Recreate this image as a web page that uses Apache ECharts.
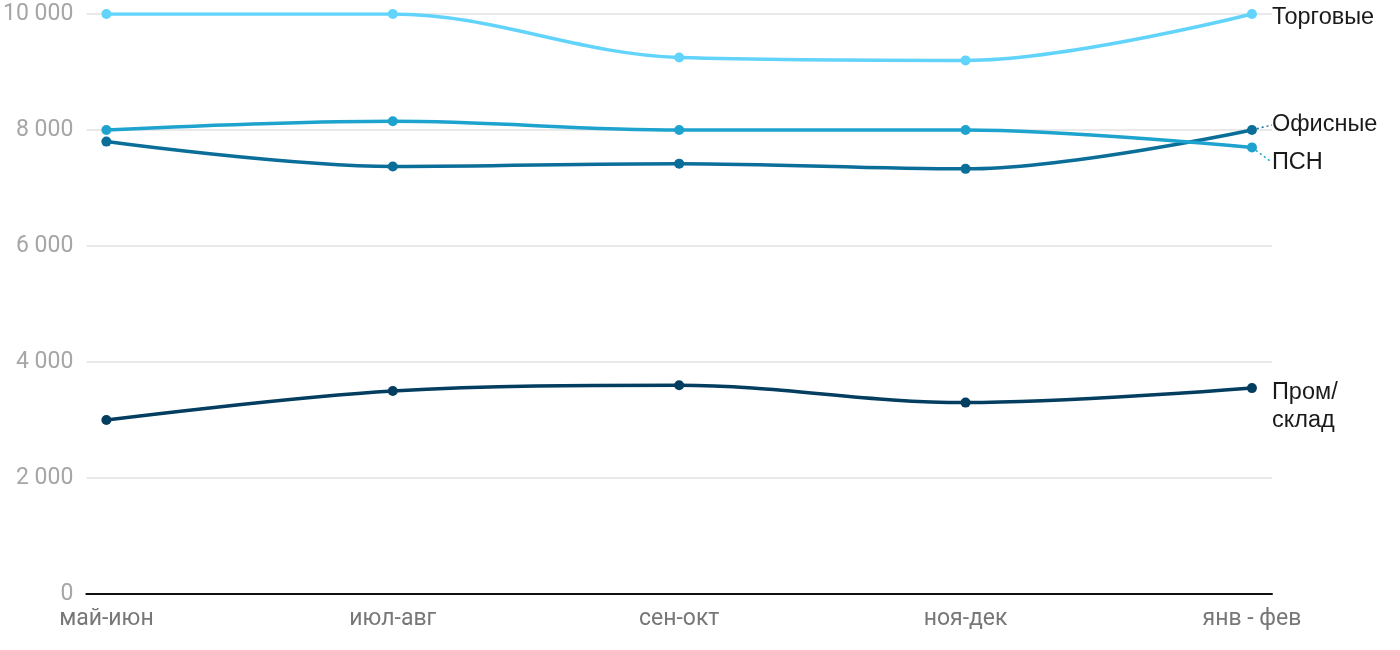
<!DOCTYPE html>
<html><head><meta charset="utf-8">
<script src="https://cdn.jsdelivr.net/npm/echarts@6/dist/echarts.min.js"></script>
<style>html,body{margin:0;padding:0;background:#fff}#c{width:1400px;height:650px}</style>
</head><body><div id="c"></div>
<script>
const categories = ['май-июн', 'июл-авг', 'сен-окт', 'ноя-дек', 'янв - фев'];
const seriesNames = ['Торговые', 'ПСН', 'Офисные', 'Пром/\nсклад'];
const torgovye = [10000, 10000, 9250, 9200, 10000];
const psn = [8000, 8150, 8000, 8000, 7700];
const ofisnye = [7800, 7370, 7420, 7330, 8000];
const promsklad = [3000, 3500, 3600, 3300, 3550];
const yTicks = [0, 2000, 4000, 6000, 8000, 10000];
const colors = ['#62d4fb', '#1ea3cf', '#0a6e99', '#033d5f'];
const labelShift = [4, 15, -5, 18];

const allData = [torgovye, psn, ofisnye, promsklad];
function fmt(v){ return String(v).replace(/\B(?=(\d{3})+(?!\d))/g, ' '); }

const chart = echarts.init(document.getElementById('c'));
const series = allData.map((arr, si) => ({
  name: seriesNames[si],
  type: 'line',
  smooth: 0.35,
  symbol: 'circle',
  symbolSize: 10,
  lineStyle: { width: 3.5, color: colors[si] },
  itemStyle: { color: colors[si] },
  z: 10 - si,
  data: arr.map((v, i) => {
    const d = { value: [i, v] };
    if (i === arr.length - 1) {
      d.label = {
        show: true, position: 'right', distance: 15,
        formatter: seriesNames[si],
        color: '#1a1a1a', fontSize: 23.5, lineHeight: 28,
        fontFamily: 'Liberation Sans, Arial, sans-serif'
      };
    }
    return d;
  }),
  labelLayout: { dy: labelShift[si] },
  labelLine: { show: (si === 1 || si === 2), length2: 0,
    lineStyle: { color: colors[si], width: 1.5, type: [2, 3] } }
}));

chart.setOption({
  animation: false,
  grid: { left: 85, right: 128, top: 14, bottom: 56 },
  xAxis: {
    type: 'value', min: -0.07, max: 4.07,
    axisLine: { show: true, onZero: false, lineStyle: { color: '#111', width: 2 } },
    axisTick: { show: false },
    splitLine: { show: false },
    axisLabel: {
      customValues: categories.map((c, i) => i),
      formatter: v => categories[Math.round(v)],
      color: '#777', fontSize: 23, margin: 14,
      fontFamily: 'Roboto, sans-serif'
    }
  },
  yAxis: {
    type: 'value', min: 0, max: 10000, interval: 2000,
    axisLine: { show: false }, axisTick: { show: false },
    splitLine: { lineStyle: { color: '#e2e2e2', width: 1.5 } },
    axisLabel: {
      formatter: v => fmt(v), color: '#a6a6a6', fontSize: 23, margin: 13,
      fontFamily: 'Roboto, sans-serif'
    }
  },
  series
});
</script></body></html>
